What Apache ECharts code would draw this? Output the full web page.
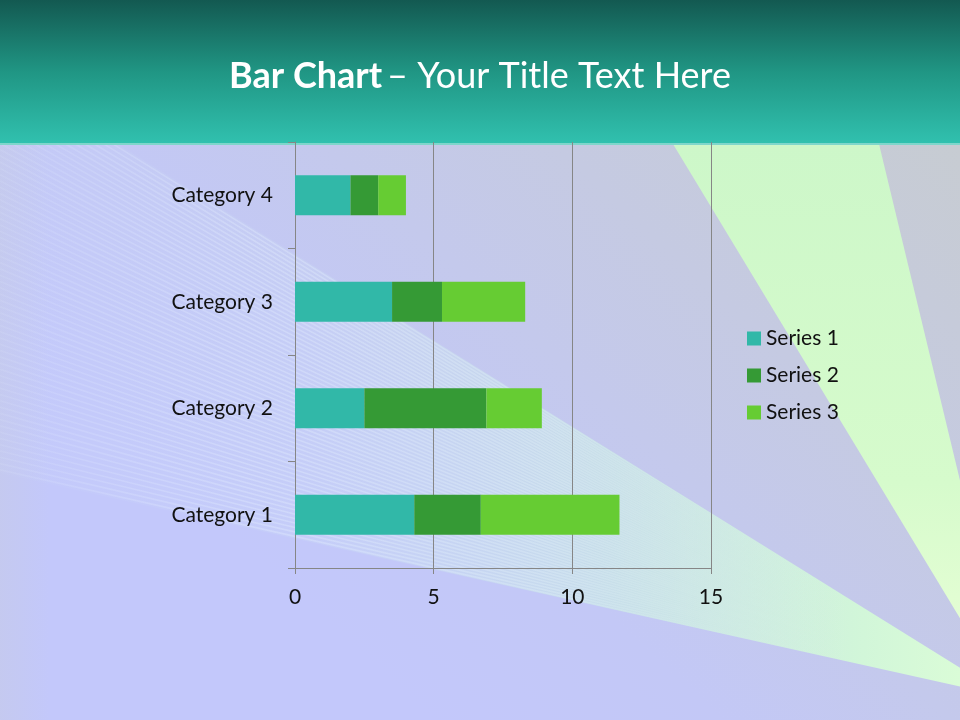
<!DOCTYPE html>
<html>
<head>
<meta charset="utf-8">
<script src="https://cdn.jsdelivr.net/npm/echarts@6/dist/echarts.min.js"></script>
<style>
html,body{margin:0;padding:0;background:#c4c9f2;}
#main{width:960px;height:720px;}
</style>
</head>
<body>
<div id="main"></div>
<script>
const categories = ['Category 1', 'Category 2', 'Category 3', 'Category 4'];
const series1 = [4.3, 2.5, 3.5, 2];
const series2 = [2.4, 4.4, 1.8, 1];
const series3 = [5, 2, 3, 1];
const seriesNames = ['Series 1', 'Series 2', 'Series 3'];
const xTicks = [0, 5, 10, 15];

const colors = ['#31b8a8', '#359a35', '#66cc33'];
const FONT = 'Lato, "Open Sans", sans-serif';

// decorative background
const bg = [];
bg.push({type:'rect', z:-100, shape:{x:0,y:144,width:960,height:576}, style:{fill:{type:'linear',x:1,y:0,x2:0.45,y2:1,colorStops:[{offset:0,color:'#c7ccd2'},{offset:0.35,color:'#c5cae2'},{offset:0.75,color:'#c3c8f6'},{offset:1,color:'#c3c8fb'}]}}});
// left-bottom corner greyish
bg.push({type:'rect', z:-99, shape:{x:0,y:144,width:50,height:576}, style:{fill:{type:'linear',x:0,y:0,x2:1,y2:0,colorStops:[{offset:0,color:'rgba(200,204,218,0.35)'},{offset:1,color:'rgba(200,204,218,0)'}]}}});
// beam A (top right)
bg.push({type:'polygon', z:-95, shape:{points:[[673,144],[879,144],[1015,709]]}, style:{fill:{type:'linear',x:0,y:0,x2:0,y2:1,colorStops:[{offset:0,color:'#cdf7c9'},{offset:0.6,color:'#d6fbcc'},{offset:1,color:'#ecffd8'}]}}});
// beam B body
const tip = [1007, 697];
const upperLeft = [0, 71];
const lowerLeft = [0, 473];
bg.push({type:'polygon', z:-94, shape:{points:[tip, upperLeft, lowerLeft]}, style:{fill:{type:'linear',x:0,y:0,x2:1,y2:0,colorStops:[{offset:0,color:'rgba(205,220,245,0.05)'},{offset:0.3,color:'rgba(205,225,245,0.2)'},{offset:0.6,color:'rgba(200,232,228,0.65)'},{offset:0.85,color:'rgba(210,248,216,0.95)'},{offset:1,color:'rgba(222,255,214,1)'}]}}});
// beam B stripes
const nStripes = 64;
for (let i = 0; i < nStripes; i++) {
  const t = (i + 0.5) / nStripes;
  const yEnd = upperLeft[1] + t * (lowerLeft[1] - upperLeft[1]);
  bg.push({type:'line', z:-93, shape:{x1:tip[0],y1:tip[1],x2:0,y2:yEnd}, style:{stroke:{type:'linear',x:0,y:0,x2:1,y2:0,colorStops:[{offset:0,color:'rgba(230,240,255,0.1)'},{offset:0.25,color:'rgba(230,240,255,0.32)'},{offset:0.55,color:'rgba(230,245,250,0.3)'},{offset:0.85,color:'rgba(230,255,235,0)'},{offset:1,color:'rgba(230,255,235,0)'}]}, lineWidth:1.6}});
}
// title band
bg.push({type:'rect', z:-90, shape:{x:0,y:0,width:960,height:144}, style:{fill:{type:'linear',x:0,y:0,x2:0,y2:1,colorStops:[{offset:0,color:'#135951'},{offset:0.5,color:'#209684'},{offset:1,color:'#31c1af'}]}}});
bg.push({type:'rect', z:-89, shape:{x:0,y:143,width:960,height:2}, style:{fill:'#7fd6cb'}});

const chart = echarts.init(document.getElementById('main'), null, {renderer:'canvas'});
chart.setOption({
  backgroundColor: 'transparent',
  animation: false,
  title: {
    text: '{b|Bar Chart} {n|– Your Title Text Here}',
    left: 'center',
    top: 53,
    textStyle: {
      rich: {
        b: {fontFamily: FONT, fontSize: 36, fontWeight: 'bold', color: '#ffffff'},
        n: {fontFamily: FONT, fontSize: 36, fontWeight: 'normal', color: '#ffffff'}
      }
    }
  },
  graphic: {elements: bg},
  legend: {
    orient: 'vertical',
    left: 747,
    top: 328,
    padding: 0,
    itemWidth: 14,
    itemHeight: 14,
    itemGap: 16,
    icon: 'rect',
    data: seriesNames,
    textStyle: {fontFamily: FONT, fontSize: 21, color: '#111111'}
  },
  grid: {left: 295, right: 249, top: 142, bottom: 152, containLabel: false},
  xAxis: {
    type: 'value',
    min: 0, max: 15, interval: 5,
    axisLine: {show: true, lineStyle: {color: '#868686', width: 1}},
    axisTick: {show: true, length: 6, lineStyle: {color: '#868686'}},
    splitLine: {show: true, lineStyle: {color: '#868686', width: 1}},
    axisLabel: {
      margin: 19, fontFamily: FONT, fontSize: 21, color: '#111111',
      formatter: v => xTicks.includes(v) ? String(v) : ''
    }
  },
  yAxis: {
    type: 'category',
    data: categories,
    axisLine: {show: true, lineStyle: {color: '#868686', width: 1}},
    axisTick: {show: true, length: 7, lineStyle: {color: '#868686'}},
    axisLabel: {margin: 22, fontFamily: FONT, fontSize: 21, color: '#111111'}
  },
  series: [
    {name: seriesNames[0], type: 'bar', stack: 'total', barWidth: 40, data: series1, itemStyle: {color: colors[0]}},
    {name: seriesNames[1], type: 'bar', stack: 'total', barWidth: 40, data: series2, itemStyle: {color: colors[1]}},
    {name: seriesNames[2], type: 'bar', stack: 'total', barWidth: 40, data: series3, itemStyle: {color: colors[2]}}
  ]
});
</script>
</body>
</html>
